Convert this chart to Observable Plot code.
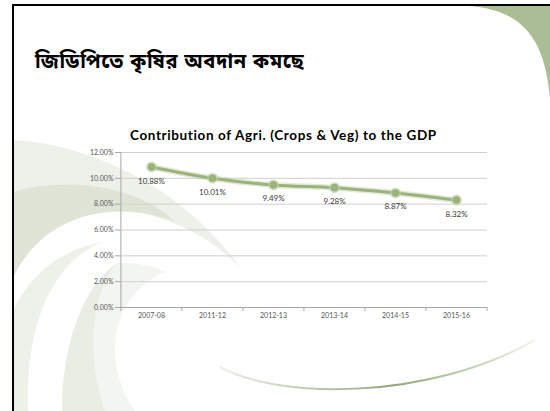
<!DOCTYPE html>
<html><head><meta charset="utf-8">
<script src="https://cdn.jsdelivr.net/npm/d3@7"></script>
<script src="https://cdn.jsdelivr.net/npm/@observablehq/plot@0.6"></script>
<style>
body{margin:0;background:#fff;}
#slide{position:relative;width:550px;height:411px;overflow:hidden;background:#fff;}
#deco{position:absolute;left:0;top:0;}
#title{position:absolute;left:35px;top:49px;font:bold 20px "Noto Sans Bengali","Noto Sans",sans-serif;color:#000;white-space:nowrap;line-height:28px;}
#ctitle{position:absolute;left:130px;top:127px;font:bold 13.5px Lato,sans-serif;color:#000;white-space:nowrap;}
#chart{position:absolute;left:0;top:0;}
</style></head><body>
<div id="slide">
<svg id="deco" width="550" height="411">
<defs><linearGradient id="g" x1="220" y1="0" x2="535" y2="0" gradientUnits="userSpaceOnUse">
<stop offset="0" stop-color="#eef1ea"/><stop offset="0.55" stop-color="#8fa878"/><stop offset="1" stop-color="#eef2e8"/></linearGradient></defs>
<path d="M13,140 C100,145 190,195 242,270 C210,235 170,215 100,205 L13,200 Z" fill="#eef1e9"/>
<path d="M13,192 C50,180 130,178 175,222 C120,200 45,210 13,278 Z" fill="#dfe5d6"/>
<path d="M13,310 C30,275 60,250 102,242 C60,260 25,310 28,411 L13,411 Z" fill="#eef1e9"/>
<path d="M117,263 C140,262 160,268 165,272 C120,290 95,350 135,411 L105,411 C88,360 88,300 117,263 Z" fill="#f3f5f0"/>
<path d="M117,263 C85,285 62,340 62,411 L105,411 C88,360 88,300 117,263 Z" fill="#eaede4"/>
<path d="M220,367 C280,400 430,400 535,340" fill="none" stroke="url(#g)" stroke-width="2"/>
<path d="M468,6 C528,10 545,45 550,98 L550,6 Z" fill="#aabd95"/>
<line x1="13" y1="4" x2="13" y2="411" stroke="#000" stroke-width="2"/>
<line x1="12" y1="5" x2="550" y2="5" stroke="#000" stroke-width="2"/>
</svg>
<div id="title">জিডিপিতে কৃষির অবদান কমছে</div>
<div id="ctitle">Contribution of Agri. (Crops &amp; Veg) to the GDP</div>
<div id="chart"></div>
</div>
<script>
const years = ["2007-08","2011-12","2012-13","2013-14","2014-15","2015-16"];
const share = [10.88, 10.01, 9.49, 9.28, 8.87, 8.32];
const yTicks = [0, 2, 4, 6, 8, 10, 12];

// fit the two titles to the widths they take in the slide
function fitWidth(el, target) {
  const w = el.getBoundingClientRect().width;
  const n = el.textContent.length;
  el.style.letterSpacing = ((target - w) / n).toFixed(3) + "px";
}
fitWidth(document.getElementById("title"), 275);
fitWidth(document.getElementById("ctitle"), 307);

const data = years.map((year, i) => ({year, value: share[i]}));
const W = 550, H = 411, mL = 120, mR = 63, mT = 152, mB = 104;
const step = (W - mL - mR) / years.length;
const green = "#9bb37b";

const plot = Plot.plot({
  width: W, height: H,
  marginLeft: mL, marginRight: mR, marginTop: mT, marginBottom: mB,
  style: {background: "transparent", fontFamily: "Lato, sans-serif", overflow: "visible"},
  x: {type: "point", domain: years, padding: 0.5, align: 0.5, tickSize: 0, tickPadding: 6, label: null},
  y: {domain: [0, 12], ticks: yTicks, tickFormat: d => d.toFixed(2) + "%", tickSize: 5, tickPadding: 2, label: null},
  marks: [
    Plot.ruleY(yTicks.filter(d => d > 0), {stroke: "#cfcfcf", strokeWidth: 1}),
    Plot.ruleY([0], {stroke: "#a6a6a6"}),
    Plot.ruleX([years[0]], {x: d => d, y1: 0, y2: 12, dx: -step / 2, stroke: "#a6a6a6"}),
    Plot.ruleX(years, {x: d => d, y1: 0, y2: 0, dx: -step / 2, insetBottom: -4, stroke: "#a6a6a6"}),
    Plot.ruleX([years[years.length - 1]], {x: d => d, y1: 0, y2: 0, dx: step / 2, insetBottom: -4, stroke: "#a6a6a6"}),
    Plot.line(data, {x: "year", y: "value", stroke: "#c8d5b6", strokeWidth: 6, strokeOpacity: 0.5, curve: "catmull-rom"}),
    Plot.line(data, {x: "year", y: "value", stroke: green, strokeWidth: 3, curve: "catmull-rom"}),
    Plot.dot(data, {x: "year", y: "value", r: 5.5, fill: "#c3d1b1", fillOpacity: 0.7}),
    Plot.dot(data, {x: "year", y: "value", r: 3.8, fill: green}),
    Plot.text(data, {x: "year", y: "value", text: d => d.value.toFixed(2) + "%", dy: 14, fontSize: 8, fill: "#3a3a3a"})
  ]
});
plot.querySelectorAll("[aria-label^='y-axis'], [aria-label^='x-axis']").forEach(g => g.setAttribute("font-size", "7"));
plot.querySelectorAll("[aria-label^='y-axis'] text, [aria-label^='x-axis'] text").forEach(t => { t.setAttribute("fill", "#555"); t.style.fontSize = "7px"; });
plot.querySelectorAll("[aria-label^='y-axis'] line, [aria-label^='y-axis'] path").forEach(l => l.setAttribute("stroke", "#a6a6a6"));
document.getElementById("chart").appendChild(plot);
</script>
</body></html>
